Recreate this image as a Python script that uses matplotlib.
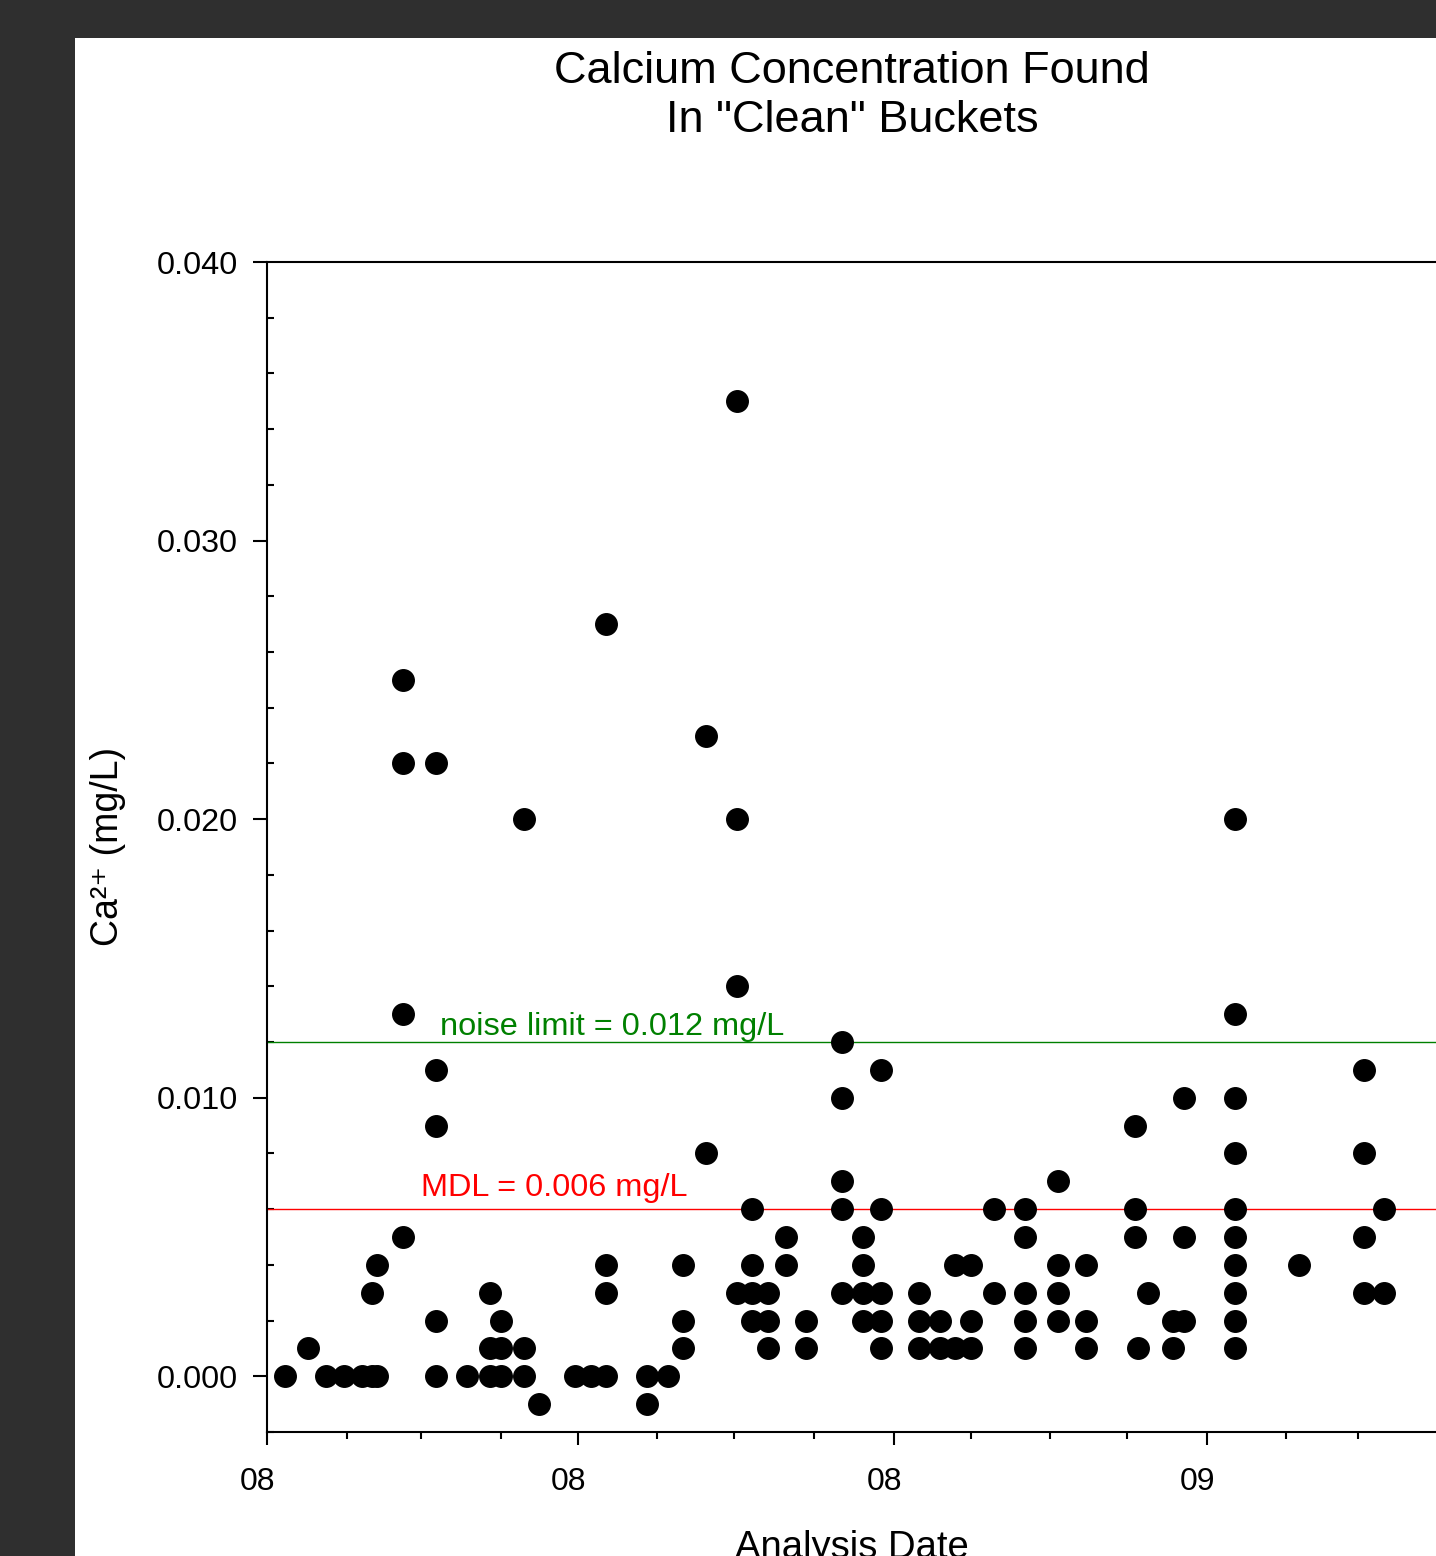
import matplotlib
matplotlib.use('Agg')
import matplotlib.pyplot as plt
import matplotlib.dates as mdates
import matplotlib.transforms as mtransforms
from matplotlib.patches import Rectangle
from matplotlib.ticker import MultipleLocator, FormatStrFormatter
import datetime as dt

plt.rcParams['font.family'] = ['Liberation Sans', 'DejaVu Sans']

# ---------------- data ----------------
column_dates = [
    "2008-01-08", "2008-01-17", "2008-01-24", "2008-01-31", "2008-02-07",
    "2008-02-11", "2008-02-13", "2008-02-23", "2008-03-07", "2008-03-19",
    "2008-03-28", "2008-04-01", "2008-04-10", "2008-04-16", "2008-04-30",
    "2008-05-06", "2008-05-12", "2008-05-28", "2008-06-05", "2008-06-11",
    "2008-06-20", "2008-07-02", "2008-07-08", "2008-07-14", "2008-07-21",
    "2008-07-29", "2008-08-12", "2008-08-20", "2008-08-27", "2008-09-11",
    "2008-09-19", "2008-09-25", "2008-10-01", "2008-10-10", "2008-10-22",
    "2008-11-04", "2008-11-15", "2008-12-04", "2008-12-05", "2008-12-09",
    "2008-12-19", "2008-12-23", "2009-01-12", "2009-02-06", "2009-03-03",
    "2009-03-11",
]
column_values = [
    [0.000], [0.001], [0.000], [0.000], [0.000],
    [0.000, 0.003], [0.000, 0.004], [0.025, 0.022, 0.013, 0.005],
    [0.022, 0.011, 0.009, 0.002, 0.000], [0.000],
    [0.003, 0.001, 0.000], [0.002, 0.001, 0.000], [0.020, 0.001, 0.000],
    [-0.001], [0.000],
    [0.000], [0.027, 0.004, 0.003, 0.000], [0.000, -0.001], [0.000],
    [0.004, 0.002, 0.001],
    [0.023, 0.008], [0.035, 0.020, 0.014, 0.003], [0.006, 0.004, 0.003, 0.002],
    [0.003, 0.002, 0.001], [0.005, 0.004],
    [0.002, 0.001], [0.012, 0.010, 0.007, 0.006, 0.003], [0.005, 0.004, 0.003, 0.002],
    [0.011, 0.006, 0.003, 0.002, 0.001], [0.003, 0.002, 0.001],
    [0.002, 0.001], [0.004, 0.001], [0.004, 0.002, 0.001], [0.006, 0.003],
    [0.006, 0.005, 0.003, 0.002, 0.001],
    [0.007, 0.004, 0.003, 0.002], [0.004, 0.002, 0.001], [0.009, 0.006, 0.005],
    [0.001], [0.003],
    [0.002, 0.001], [0.010, 0.005, 0.002],
    [0.020, 0.013, 0.010, 0.008, 0.006, 0.005, 0.004, 0.003, 0.002, 0.001],
    [0.004], [0.011, 0.008, 0.005, 0.003],
    [0.006, 0.003],
]
noise_limit = 0.012
mdl = 0.006
y_ticks = [0.000, 0.010, 0.020, 0.030, 0.040]

title_lines = ['Calcium Concentration Found', 'In "Clean" Buckets']
x_label = 'Analysis Date'
y_label = 'Ca\u00b2\u207a (mg/L)'
noise_text = 'noise limit = 0.012 mg/L'
mdl_text = 'MDL = 0.006 mg/L'

# expand to flat series
dates = []
values = []
for d, vals in zip(column_dates, column_values):
    for v in vals:
        dates.append(dt.datetime.strptime(d, "%Y-%m-%d"))
        values.append(v)

# ---------------- figure ----------------
W, H = 1436, 1556
fig = plt.figure(figsize=(W / 100, H / 100), dpi=100, facecolor='#2f2f2f')
fig.patches.append(Rectangle((75 / W, 0), 1 - 75 / W, (H - 38) / H,
                             transform=fig.transFigure, facecolor='white',
                             edgecolor='none', zorder=-10))

ax_left, ax_right, ax_top, ax_bottom = 267, 1438, 262, 1432
ax = fig.add_axes([ax_left / W, (H - ax_bottom) / H,
                   (ax_right - ax_left) / W, (ax_bottom - ax_top) / H])
ax.set_zorder(5)
ax.set_facecolor('white')

ax.plot(dates, values, 'o', color='black', markersize=15.5,
        markeredgecolor='black', linestyle='none', zorder=3, clip_on=False)

ax.axhline(noise_limit, color='#008000', linewidth=1.0, zorder=2)
ax.axhline(mdl, color='#ff0000', linewidth=1.0, zorder=2)

blend = mtransforms.blended_transform_factory(ax.transAxes, ax.transData)
ax.text(0.1477, 0.01224, noise_text, transform=blend, color='#008000',
        fontsize=23.4, ha='left', va='baseline')
ax.text(0.1315, 0.00646, mdl_text, transform=blend, color='#ff0000',
        fontsize=23.4, ha='left', va='baseline')

ax.set_xlim(dt.datetime(2008, 1, 1), dt.datetime(2009, 4, 1))
ax.set_ylim(-0.002, 0.040)

ax.xaxis.set_major_locator(mdates.MonthLocator(bymonth=[1, 5, 9]))
ax.xaxis.set_minor_locator(mdates.MonthLocator())
ax.xaxis.set_major_formatter(mdates.DateFormatter('%y'))
ax.set_yticks(y_ticks)
ax.yaxis.set_minor_locator(MultipleLocator(0.002))
ax.yaxis.set_major_formatter(FormatStrFormatter('%.3f'))

for side in ['left', 'bottom', 'top', 'right']:
    ax.spines[side].set_linewidth(1.5)
    ax.spines[side].set_color('black')

ax.tick_params(axis='x', which='major', direction='out', length=9, width=1.5,
               pad=16, labelsize=23, top=False)
ax.tick_params(axis='x', which='minor', direction='out', length=5, width=1.5,
               top=False)
ax.tick_params(axis='y', which='major', direction='out', length=10, width=1.5,
               pad=11, labelsize=23.3, right=False)
ax.tick_params(axis='y', which='minor', direction='in', length=5, width=1.5,
               right=False)

fig.text(852 / W, 1 - 83 / H, title_lines[0], ha='center', va='baseline',
         fontsize=32.5)
fig.text(852 / W, 1 - 132 / H, title_lines[1], ha='center', va='baseline',
         fontsize=32.5)
fig.text(852 / W, 1 - 1558 / H, x_label, ha='center', va='baseline',
         fontsize=27.5)
fig.text(108 / W, 1 - 846 / H, y_label, ha='center', va='center',
         rotation=90, fontsize=27)

fig.canvas.draw()
shift = mtransforms.ScaledTranslation(-9 / 100, 0, fig.dpi_scale_trans)
for tick in ax.xaxis.get_major_ticks():
    tick.label1.set_transform(tick.label1.get_transform() + shift)

fig.savefig('out.png', dpi=100, facecolor=fig.get_facecolor())
